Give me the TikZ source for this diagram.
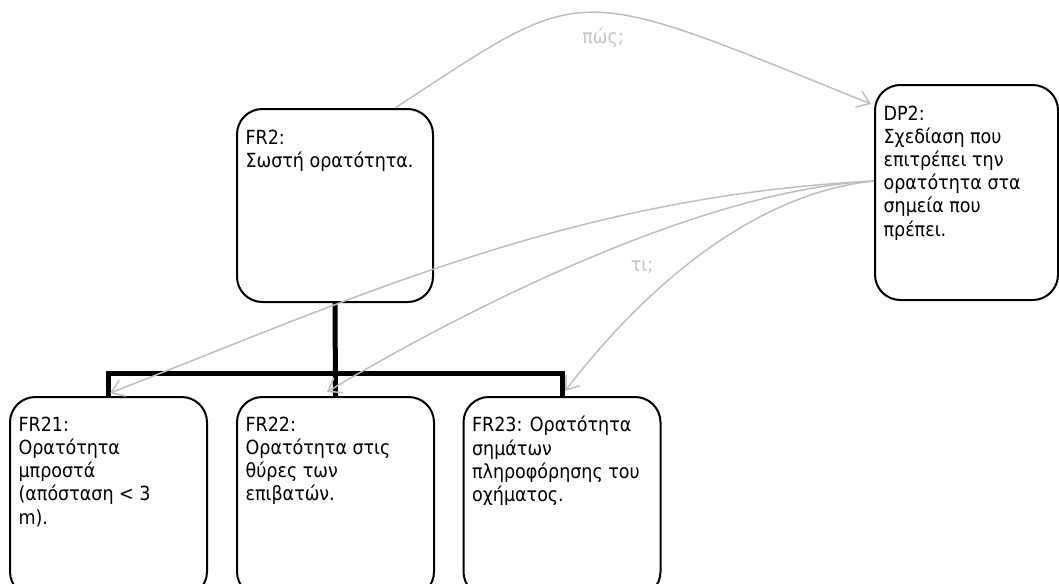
\documentclass[tikz,border=0pt]{standalone}
\usepackage{fontspec}
\setmainfont{DejaVu Sans Condensed}
\usetikzlibrary{arrows.meta}
\definecolor{linkgray}{HTML}{BDBDBD}
\definecolor{labelgray}{HTML}{C4C4C4}

\begin{document}
\begin{tikzpicture}[x=0.75pt,y=-0.75pt,
  box/.style={draw=black, line width=1.5pt, rounded corners=19pt, inner sep=0pt},
  txt/.style={anchor=north west, align=left, inner sep=0pt,
    font=\fontsize{14.6}{17.4}\selectfont},
  tree/.style={line width=3.75pt},
  link/.style={draw=linkgray, line width=1.1pt,
    -{Straight Barb[length=9pt,width=13pt,line width=1.1pt]}},
  tag/.style={text=labelgray, inner sep=0pt, font=\fontsize{14.6}{17.4}\selectfont}]

\useasboundingbox (0,0) rectangle (1059,583);
\clip (0,0) rectangle (1059,583);

% boxes
\node[box, minimum width=147pt, minimum height=144.75pt] (fr2) at (335,205.5) {};
\node[box, minimum width=137.25pt, minimum height=161.25pt] (dp2) at (966.5,192.5) {};
\node[box, minimum width=147.75pt, minimum height=150pt] (fr21) at (108.5,497) {};
\node[box, minimum width=147.75pt, minimum height=150pt] (fr22) at (335.5,497) {};
\node[box, minimum width=147.75pt, minimum height=150pt] (fr23) at (562,497) {};

% box texts
\node[txt] (fr2t) at ([xshift=7pt,yshift=-16pt]fr2.north west) {FR2:\\Σωστή ορατότητα.};
\node[txt] (dp2t) at ([xshift=7pt,yshift=-16pt]dp2.north west)
  {DP2:\\Σχεδίαση που\\επιτρέπει την\\ορατότητα στα\\σημεία που\\πρέπει.};
\node[txt] (fr21t) at ([xshift=7pt,yshift=-15.5pt]fr21.north west)
  {FR21:\\Ορατότητα\\μπροστά\\(απόσταση < 3\\m).};
\node[txt] (fr22t) at ([xshift=7pt,yshift=-15.5pt]fr22.north west)
  {FR22:\\Ορατότητα στις\\θύρες των\\επιβατών.};
\node[txt] (fr23t) at ([xshift=7pt,yshift=-15pt]fr23.north west)
  {FR23: Ορατότητα\\σημάτων\\πληροφόρησης του\\οχήματος.};

% decomposition tree
\coordinate (bus) at (335,373);
\draw[tree] (fr21.north) -- (fr21.north |- bus) -- (fr23.north |- bus) -- (fr23.north);
\draw[tree] (fr2.south) -- (fr22.north);

% zigzag links
\coordinate (howend) at ([xshift=-2.25pt,yshift=-15pt]dp2.north west);
\coordinate (whatstart) at ([yshift=8.6pt]dp2.west);
\draw[link] ([xshift=45pt]fr2.north) .. controls +(195,-127) and +(-305,-123) .. (howend);
\draw[link] (whatstart) .. controls +(-300,15) and +(250,-97.5) .. ([xshift=1.2pt,yshift=2.25pt]fr21.north);
\draw[link] (whatstart) .. controls +(-180,9) and +(120,-72) .. ([xshift=-6.4pt,yshift=3pt]fr22.north);
\draw[link] (whatstart) .. controls +(-120,12) and +(80,-104) .. ([xshift=2.25pt,yshift=3.75pt]fr23.north);

% link labels
\node[tag] (how) at (603,38) {πώς;};
\node[tag] (what) at (642,267) {τι;};
\end{tikzpicture}
\end{document}
